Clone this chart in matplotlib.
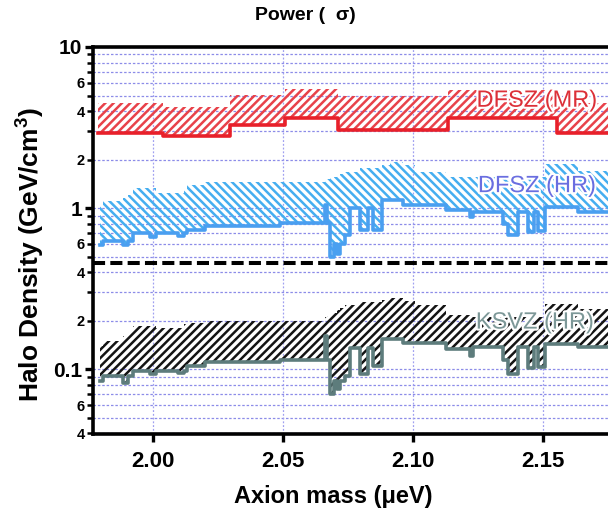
import matplotlib
matplotlib.use("Agg")
import matplotlib.pyplot as plt
import matplotlib.patheffects as pe
from matplotlib.ticker import FixedLocator, FixedFormatter

plt.rcParams['font.family'] = ['Liberation Sans', 'DejaVu Sans']
plt.rcParams['mathtext.default'] = 'regular'
plt.rcParams['hatch.linewidth'] = 1.8

# ---- DFSZ (MR) exclusion band (step edges, GeV/cm^3) ----
mr_mass = [1.9790, 2.0038, 2.0296, 2.0508, 2.0712, 2.1135, 2.1554, 2.1900]
mr_lower = [2.92, 2.81, 3.29, 3.64, 3.06, 3.64, 2.93, 2.93]
mr_upper = [4.51, 4.26, 5.06, 5.50, 4.95, 5.40, 4.50, 4.50]

# ---- HR scan: mass grid (ueV) shared by DFSZ and KSVZ bands ----
hr_mass = [1.9796, 1.9808, 1.9885, 1.9904, 1.9923, 1.9988, 2.0012, 2.0096,
           2.0119, 2.0131, 2.0200, 2.0323, 2.0488, 2.0662, 2.0669, 2.0681,
           2.0696, 2.0708, 2.0719, 2.0738, 2.0758, 2.0796, 2.0827, 2.0846,
           2.0881, 2.0911, 2.0962, 2.1008, 2.1127, 2.1219, 2.1231, 2.1346,
           2.1365, 2.1404, 2.1442, 2.1465, 2.1481, 2.1508, 2.1635, 2.1900]

dfsz_hr_lower = [0.59, 0.63, 0.59, 0.63, 0.70, 0.66, 0.70, 0.67,
                 0.70, 0.73, 0.77, 0.78, 0.81, 1.05, 0.81, 0.50,
                 0.60, 0.52, 0.60, 0.68, 1.00, 0.73, 1.00, 0.73,
                 1.12, 1.12, 1.04, 1.04, 0.97, 0.88, 0.94, 0.80,
                 0.68, 0.94, 0.71, 0.94, 0.72, 1.01, 0.95, 0.95]
dfsz_hr_upper = [1.04, 1.10, 1.15, 1.20, 1.33, 1.33, 1.24, 1.24,
                 1.30, 1.39, 1.45, 1.45, 1.45, 1.50, 1.52, 1.54,
                 1.56, 1.58, 1.62, 1.68, 1.68, 1.77, 1.77, 1.77,
                 1.85, 1.93, 1.85, 1.68, 1.56, 1.56, 1.56, 1.56,
                 1.56, 1.56, 1.56, 1.56, 1.56, 1.88, 1.70, 1.70]

ksvz_hr_lower = [0.085, 0.091, 0.082, 0.091, 0.098, 0.093, 0.098, 0.095,
                 0.098, 0.105, 0.111, 0.111, 0.115, 0.160, 0.115, 0.070,
                 0.085, 0.075, 0.085, 0.091, 0.136, 0.094, 0.136, 0.105,
                 0.155, 0.155, 0.146, 0.146, 0.134, 0.121, 0.137, 0.115,
                 0.094, 0.137, 0.102, 0.137, 0.104, 0.144, 0.137, 0.137]
ksvz_hr_upper = [0.140, 0.150, 0.162, 0.170, 0.187, 0.187, 0.181, 0.181,
                 0.190, 0.195, 0.200, 0.200, 0.200, 0.210, 0.215, 0.220,
                 0.225, 0.235, 0.240, 0.249, 0.249, 0.260, 0.260, 0.260,
                 0.270, 0.279, 0.267, 0.249, 0.216, 0.210, 0.210, 0.210,
                 0.210, 0.210, 0.210, 0.210, 0.210, 0.256, 0.238, 0.238]

# boundary between the DFSZ and KSVZ halves of the plot
separator_level = 0.454

x_ticks = [2.00, 2.05, 2.10, 2.15]
x_tick_labels = ["2.00", "2.05", "2.10", "2.15"]
y_major = [0.1, 1, 10]
y_major_labels = ["0.1", "1", "10"]
y_minor = [0.04, 0.05, 0.06, 0.07, 0.08, 0.09, 0.2, 0.3, 0.4, 0.5, 0.6, 0.7,
           0.8, 0.9, 2, 3, 4, 5, 6, 7, 8, 9]
y_minor_labels = ["4", "", "6", "", "", "", "2", "", "4", "", "6", "", "",
                  "", "2", "", "4", "", "6", "", "", ""]

fig = plt.figure(figsize=(6.08, 5.16), dpi=100)
ax = fig.add_axes([93 / 608, 1 - 434 / 516, 597 / 608, 387 / 516])
ax.set_yscale('log')
ax.set_xlim(1.97692, 2.20654)
ax.set_ylim(0.0397, 10)

# grid
grid_col = '#8c8ce8'
for v in y_minor + y_major:
    ax.axhline(v, color=grid_col, lw=0.9, dashes=(2, 1.5), zorder=0.5)
for v in x_ticks:
    ax.axvline(v, color='#a0a0f0', lw=0.9, dashes=(1.5, 1.5), zorder=0.5)

# DFSZ (MR)
ax.fill_between(mr_mass, mr_lower, mr_upper, step='post', facecolor='none',
                edgecolor='#e8424a', hatch='////', linewidth=0, zorder=2)
ax.step(mr_mass, mr_lower, where='post', color='#e8202a', lw=2.6, zorder=3)

# DFSZ (HR)
ax.fill_between(hr_mass, dfsz_hr_lower, dfsz_hr_upper, step='post',
                facecolor='none', edgecolor='#45aef0', hatch='\\\\\\\\',
                linewidth=0, zorder=2)
ax.step(hr_mass, dfsz_hr_lower, where='post', color='#4a9ff0', lw=2.6,
        zorder=3)

# KSVZ (HR)
ax.fill_between(hr_mass, ksvz_hr_lower, ksvz_hr_upper, step='post',
                facecolor='none', edgecolor='#141414', hatch='////',
                linewidth=0, zorder=2)
ax.step(hr_mass, ksvz_hr_lower, where='post', color='#5d7c7c', lw=2.6,
        zorder=3)

ax.axhline(separator_level, color='black', lw=2.9, dashes=(3.0, 1.3),
           zorder=4)

halo = [pe.withStroke(linewidth=3, foreground='white')]
ax.text(2.1477, 4.64, "DFSZ (MR)", color='#dc3038', fontsize=17,
        ha='center', va='center', path_effects=halo, zorder=5)
ax.text(2.1477, 1.37, "DFSZ (HR)", color='#6a6ee0', fontsize=17,
        ha='center', va='center', path_effects=halo, zorder=5)
ax.text(2.1469, 0.195, "KSVZ (HR)", color='#7d9898', fontsize=17,
        ha='center', va='center', path_effects=halo, zorder=5)

# axes styling
ax.spines['right'].set_visible(False)
for s in ('left', 'top', 'bottom'):
    ax.spines[s].set_linewidth(2.6)
    ax.spines[s].set_zorder(6)

ax.xaxis.set_major_locator(FixedLocator(x_ticks))
ax.xaxis.set_major_formatter(FixedFormatter(x_tick_labels))
ax.xaxis.set_minor_locator(FixedLocator([]))
ax.yaxis.set_major_locator(FixedLocator(y_major))
ax.yaxis.set_major_formatter(FixedFormatter(y_major_labels))
ax.yaxis.set_minor_locator(FixedLocator(y_minor))
ax.yaxis.set_minor_formatter(FixedFormatter(y_minor_labels))

ax.tick_params(axis='x', which='major', direction='out', length=6, width=2.4,
               labelsize=16, pad=6, top=False)
ax.tick_params(axis='y', which='major', direction='out', length=6, width=2.4,
               labelsize=15, pad=2, right=False)
ax.tick_params(axis='y', which='minor', direction='out', length=4, width=1.8,
               labelsize=10.5, pad=2, right=False)
for lab in ax.get_xticklabels() + ax.get_yticklabels() + ax.get_yticklabels(minor=True):
    lab.set_fontweight('bold')

fig.text(305 / 608, 1 - 15 / 516, "Power (  \u03c3)", ha='center',
         va='center', fontsize=14, fontweight='bold')
fig.text(333 / 608, 1 - 497 / 516, "Axion mass (\u03bceV)", ha='center',
         va='center', fontsize=17, fontweight='bold')
fig.text(31 / 608, 1 - 255 / 516, "Halo Density (GeV/cm$^3$)", ha='center',
         va='center', rotation=90, fontsize=19, fontweight='bold')

fig.savefig("out.png", dpi=100)
